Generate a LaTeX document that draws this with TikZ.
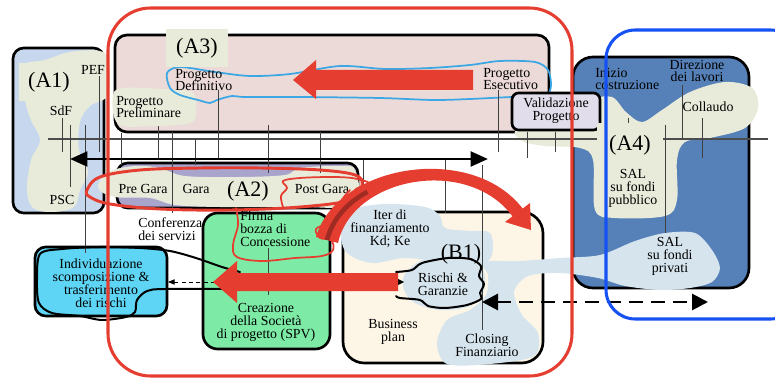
\documentclass[tikz,border=0pt]{standalone}
\usepackage{fontspec}
\setmainfont{Liberation Serif}
\usetikzlibrary{arrows.meta}
\definecolor{aoneblue}{HTML}{C7D7EE}
\definecolor{paleolive}{HTML}{E8EBDA}
\definecolor{rosebox}{HTML}{EBDAD8}
\definecolor{lilac}{HTML}{A8A4CC}
\definecolor{steel}{HTML}{5580B8}
\definecolor{lavender}{HTML}{E2DDEB}
\definecolor{mint}{HTML}{7DEBA5}
\definecolor{skycyan}{HTML}{5ED5F5}
\definecolor{cream}{HTML}{FDF6E7}
\definecolor{mist}{HTML}{D5E4ED}
\definecolor{markred}{HTML}{E53D30}
\definecolor{markblue}{HTML}{1652F3}
\definecolor{penblue}{HTML}{3BA7E4}
\begin{document}
\begin{tikzpicture}[x=0.75pt,y=-0.75pt,
  boxline/.style={draw=black, line width=2pt},
  tick/.style={draw=black!75, line width=0.75pt},
  lbl/.style={font=\fontsize{10.4}{9.7}\selectfont, inner sep=0pt, align=center},
  lbll/.style={font=\fontsize{10.4}{9.7}\selectfont, inner sep=0pt, align=left, anchor=west},
  biglbl/.style={font=\fontsize{16.5}{18}\selectfont, inner sep=0pt},
  pen/.style={draw=markred, line width=1.3pt, line cap=round, line join=round},
  ink/.style={draw=black, line width=1.5pt, line cap=round, line join=round},
  fatarrow/.style={line width=2.2pt, {Triangle[length=13pt,width=11pt]}-{Triangle[length=13pt,width=11pt]}},
]
\useasboundingbox (0,0) rectangle (775,381);

% ---------- A1 phase box ----------
\path[boxline, fill=aoneblue, rounded corners=8pt] (13,48) rectangle (104,213);
\fill[paleolive] plot[smooth cycle, tension=0.6] coordinates {(22,66) (45,60) (70,52) (100,51) (109,62) (108,95) (90,106) (80,122) (79,150) (88,172) (80,190) (74,207) (52,212) (33,208) (27,190) (31,160) (40,140) (30,118) (24,95)};

% ---------- A3 phase box ----------
\path[boxline, fill=rosebox, rounded corners=9pt] (115,35) rectangle (549,132);
\fill[paleolive] plot[smooth cycle, tension=0.6] coordinates {(113,95) (125,88) (160,89) (192,92) (196,110) (190,123) (150,126) (118,124)};
\draw[penblue, line width=1.3pt] plot[smooth cycle, tension=0.5] coordinates {(167,73) (180,67) (215,72) (250,76) (290,74) (340,66) (385,69) (430,68) (470,65) (500,61) (535,62) (548,70) (551,85) (547,95) (530,97) (512,97) (470,99) (433,100) (380,98) (300,97) (245,97) (232,96) (217,100) (210,103) (198,100) (180,95) (170,88)};
\fill[markred] (473,70) -- (316,70) -- (316,60) -- (293,80) -- (316,99) -- (316,90) -- (473,90) -- cycle;

% ---------- A4 phase box ----------
\path[boxline, fill=steel, rounded corners=15pt] (573,57) rectangle (749,288);
\fill[paleolive] plot[smooth cycle, tension=0.55] coordinates {(518,130) (575,128) (592,101) (612,97) (626,112) (642,122) (662,110) (690,92) (725,82) (752,88) (758,108) (745,128) (710,138) (685,142) (677,160) (677,200) (665,216) (615,218) (595,210) (593,160) (580,148) (545,146) (522,141)};
\path[boxline, fill=lavender, rounded corners=5pt] (512,93) rectangle (600,130);

% ---------- A2 phase box ----------
\path[boxline, fill=lilac, rounded corners=8pt] (117,163) rectangle (358,208);
\fill[paleolive] plot[smooth cycle, tension=0.55] coordinates {(98,188) (108,172) (135,166) (160,168) (185,176) (240,177) (285,175) (300,168) (340,166) (355,170) (356,205) (300,207) (220,207) (175,205) (150,198) (115,197)};

% ---------- lower boxes ----------
\path[boxline, fill=mint, rounded corners=11pt] (203,213) rectangle (330,349);
\path[boxline, fill=skycyan, rounded corners=8pt] (35,247) rectangle (167,316);
\path[boxline, fill=cream, rounded corners=16pt] (343,212) rectangle (543,363);

% ---------- pale blue clouds ----------
\fill[mist] plot[smooth cycle, tension=0.55] coordinates {(341,228) (352,210) (385,204) (425,207) (440,216) (445,228) (470,231) (490,233) (492,255) (480,264) (445,262) (405,258) (372,263) (346,252)};
\fill[mist] plot[smooth cycle, tension=0.55] coordinates {(405,274) (425,259) (460,257) (482,268) (484,290) (470,306) (440,310) (415,303) (404,290)};
\fill[mist] plot[smooth cycle, tension=0.5] coordinates {(482,262) (520,261) (560,258) (600,255) (635,241) (665,233) (695,233) (712,250) (720,268) (712,282) (690,288) (660,290) (625,286) (598,278) (560,273) (528,276) (514,292) (522,315) (538,333) (534,356) (490,364) (447,364) (437,343) (447,320) (470,310) (486,295) (488,275)};

% ---------- time axis and milestones ----------
\draw[draw=black!70, line width=0.8pt] (48,139) -- (768,139);
\foreach \x/\ya/\yb in {62/118/152, 70/125/187, 85/125/253, 99/76/152, 121/133/165, 158/126/160, 172/132/213, 195/138/165, 218/90/160, 268/125/173, 320/132/173, 363/160/198, 445/160/213, 482/165/330, 498/90/152, 527/132/158, 555/132/152, 628/118/166, 665/125/233, 682/85/139, 702/118/158, 268/248/295}
  \draw[tick] (\x,\ya) -- (\x,\yb);
\coordinate (tl) at (70,159);
\coordinate (tr) at (488,159);
\draw[fatarrow] (tl) -- (tr);

% ---------- labels ----------
\node[biglbl, fill=paleolive, inner xsep=7pt, inner ysep=7pt] (a1) at (49,82) {(A1)};
\node[lbl] (pef) at (93,70) {PEF};
\node[lbl] (sdf) at (61,111) {SdF};
\node[lbl] (psc) at (62,200) {PSC};
\node[lbll] (prelim) at (116,107) {Progetto\\Preliminare};
\node[biglbl, fill=paleolive, inner xsep=8pt, inner ysep=7pt] (a3) at (197,48) {(A3)};
\node[lbll] (definitivo) at (175,80) {Progetto\\Definitivo};
\node[lbll] (esecutivo) at (483,79) {Progetto\\Esecutivo};
\node[lbl] (valid) at (556,111) {Validazione\\Progetto};
\node[lbll] (inizio) at (595,79) {Inizio\\costruzione};
\node[lbl] (direz) at (697,71) {Direzione\\dei lavori};
\node[lbl] (collaudo) at (708,107) {Collaudo};
\node[biglbl, fill=paleolive, inner xsep=9pt, inner ysep=9pt] (a4) at (630,145) {(A4)};
\node[lbl] (salpub) at (633,188) {SAL\\su fondi\\pubblico};
\node[lbl] (salpriv) at (670,256) {SAL\\su fondi\\privati};
\node[lbl] (pregara) at (143,189) {Pre Gara};
\node[lbl] (gara) at (196,189) {Gara};
\node[biglbl] (a2) at (248,191) {(A2)};
\node[lbl] (postgara) at (322,189) {Post Gara};
\node[lbll] (confer) at (138,229) {Conferenza\\dei servizi};
\node[lbll] (firma) at (240,229) {Firma\\bozza di\\Concessione};
\node[lbl] (spv) at (266,322) {Creazione\\della Società\\di progetto (SPV)};
\node[lbl] (rischiind) at (101,283) {Individuazione\\scomposizione \&\\trasferimento\\dei rischi};
\node[lbl] (iter) at (390,229) {Iter di\\finanziamento\\Kd; Ke};
\node[biglbl] (b1) at (461,254) {(B1)};
\node[lbl] (garanzie) at (443,284) {Rischi \&\\Garanzie};
\node[lbl] (bplan) at (393,332) {Business\\plan};
\node[lbl] (closing) at (487,345) {Closing\\Finanziario};

% ---------- connectors ----------
\coordinate (spvout) at (215,282);
\coordinate (indin) at (168,282);
\draw[line width=0.7pt, dash pattern=on 3pt off 2.5pt, -{Triangle[length=5pt,width=4pt]}] (spvout) -- (indin);
\coordinate (dl) at (482,302);
\coordinate (dr) at (708,302);
\draw[line width=2.2pt, dash pattern=on 10pt off 6.5pt, {Triangle[length=12pt,width=12pt]}-{Triangle[length=12pt,width=12pt]}] (dl) -- (dr);

% ---------- hand-drawn marks ----------
\draw[ink] plot[smooth, tension=0.5] coordinates {(240,272) (222,267) (196,258) (170,251) (140,248) (100,247) (62,249) (40,254) (37,280) (39,303) (52,313) (80,316) (102,320) (126,317) (135,312) (137,300) (147,291) (165,289) (240,289)};
\draw[ink] plot[smooth, tension=0.5] coordinates {(396,272) (412,270) (422,263) (448,258) (470,259) (481,266) (479,276) (484,284) (480,293) (481,299) (467,305) (445,308) (428,306) (420,300) (400,298) (396,296)};
\fill (396,278) -- (404,282) -- (396,286) -- cycle;
\fill[markred] (398,273) -- (237,273) -- (237,261) -- (213,282) -- (237,303) -- (237,291) -- (398,291) -- cycle;

\draw[markred, line width=2.2pt] plot[smooth cycle, tension=0.6] coordinates {(87,190) (100,177) (140,170) (200,168) (260,168) (320,170) (355,175) (362,185) (350,200) (300,207) (230,210) (160,209) (110,204) (90,197)};
\draw[pen] plot[smooth, tension=0.6] coordinates {(283,207) (281,196) (287,188) (283,181) (300,178) (330,177) (352,178) (368,182)};
\draw[pen] plot[smooth, tension=0.8] coordinates {(372,183) (355,190) (368,194) (348,200) (362,203) (340,206) (350,190)};
\draw[pen] plot[smooth, tension=0.6] coordinates {(236,208) (238,225) (233,245) (237,257) (262,261) (295,258) (322,256) (333,250) (331,240) (320,238) (316,229) (327,224)};

% curved red sweep from the concession box towards B1
\coordinate (arcstart) at (327,240);
\coordinate (arcend) at (518,213);
\fill[markred] (316,237) .. controls (337,164) and (472,142) .. (523,209) -- (513,217) .. controls (469,156) and (353,176) .. (338,243) -- cycle;
\fill[markred] (530,203) -- (531,230) -- (505,222) -- cycle;
\draw[markred!70!black, line width=3.5pt] (arcstart) .. controls (332.4,219) and (347.4,202.5) .. (367.4,191.9);

% ---------- framing outlines ----------
\draw[markblue, line width=2.3pt, rounded corners=22pt] (606,30) rectangle (800,319);
\draw[markred, line width=2.3pt, rounded corners=32pt] (108,8) rectangle (572,376);
\end{tikzpicture}
\end{document}
